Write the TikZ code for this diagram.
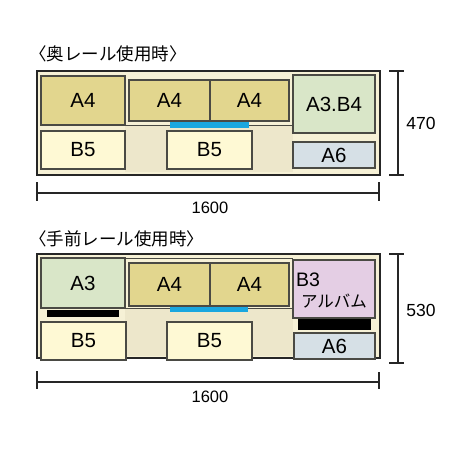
\documentclass[tikz,border=0pt]{standalone}
\usepackage{fontspec}
\setmainfont{Liberation Sans}
\newfontfamily\jp{Noto Sans CJK JP}
\usetikzlibrary{fit}
\definecolor{khaki}{HTML}{E2D68E}
\definecolor{bfive}{HTML}{FEF9D4}
\definecolor{agreen}{HTML}{D9E6C8}
\definecolor{asix}{HTML}{D6E0E6}
\definecolor{bthree}{HTML}{E4CEE4}
\definecolor{railblue}{HTML}{1AA7DF}
\definecolor{cream}{HTML}{F6F1D6}
\definecolor{beige}{HTML}{EDE7CB}
\definecolor{boxline}{HTML}{4A4A44}
\newcommand\mybox[7]{\node[#6, fit={(#2,#3) (#4,#5)}] (#1) {}; \node[lab] (#1-t) at (#1.center) {#7};}
\begin{document}
\begin{tikzpicture}[x=1pt,y=-1pt,
  lab/.style={inner sep=0pt, font=\fontsize{20.5}{20.5}\selectfont},
  box/.style={draw=boxline, line width=1.1pt, inner sep=0pt},
  outer/.style={draw=black!85, line width=1.8pt, fill=cream, inner sep=0pt},
  bar/.style={draw=none, inner sep=0pt},
  rail/.style={draw=boxline, line width=0.9pt},
  dim/.style={draw=black!85, line width=1.6pt},
  title/.style={font=\jp\fontsize{17.5}{17.5}\selectfont, anchor=west, inner sep=0pt},
  dimlab/.style={font=\fontsize{16.5}{16.5}\selectfont, inner sep=0pt}]
\useasboundingbox (0,0) rectangle (460,460);

% ---------- top ----------
\node[title] (t1) at (29,54) {〈奥レール使用時〉};
\mybox{o1}{37}{71}{380}{175}{outer}{}
\fill[beige] (125,125) rectangle (293,172);
\draw[rail] (125,125) -- (293,125);
\mybox{a4a}{41}{76}{125}{125}{box, fill=khaki}{A4}
\mybox{g1}{129}{80}{289}{121}{box, fill=khaki}{}
\draw[boxline, line width=1.1pt] (210,80) -- (210,121);
\node[lab] (a4b) at (169.5,100.5) {A4};
\node[lab] (a4c) at (249.5,100.5) {A4};
\mybox{bl1}{170}{122}{249}{128}{bar, fill=railblue}{}
\mybox{b5a}{41}{131}{125}{169}{box, fill=bfive}{B5}
\mybox{b5b}{167}{131}{252}{169}{box, fill=bfive}{B5}
\mybox{a3b4}{293}{75}{375}{133}{box, fill=agreen}{A3.B4}
\mybox{a6a}{293}{142}{375}{168}{box, fill=asix}{A6}
% dimensions
\coordinate (h1l) at (37,193); \coordinate (h1r) at (380,193);
\draw[dim] (h1l) -- (h1r);
\draw[dim] (37,182) -- (37,201);
\draw[dim] (379,182) -- (379,201);
\node[dimlab] (d1) at (210,208) {1600};
\coordinate (v1t) at (398,71); \coordinate (v1b) at (398,175);
\draw[dim] (v1t) -- (v1b);
\draw[dim] (389,71) -- (404,71);
\draw[dim] (389,175) -- (404,175);
\node[dimlab, font=\fontsize{17.5}{17.5}\selectfont] (d2) at (421,123) {470};

% ---------- bottom ----------
\node[title] (t2) at (29,239) {〈手前レール使用時〉};
\mybox{o2}{37}{254}{380}{358}{outer}{}
\fill[beige] (125,308) rectangle (293,356);
\draw[rail] (125,258) -- (293,258);
\draw[rail] (125,308) -- (293,308);
\mybox{a3}{41}{258}{125}{308}{box, fill=agreen}{A3}
\mybox{g2}{129}{263}{289}{306}{box, fill=khaki}{}
\draw[boxline, line width=1.1pt] (210,263) -- (210,306);
\node[lab] (a4d) at (169.5,284.5) {A4};
\node[lab] (a4e) at (249.5,284.5) {A4};
\mybox{bk1}{47}{310}{119}{317}{bar, fill=black}{}
\mybox{bl2}{170}{307}{248}{312}{bar, fill=railblue}{}
\mybox{b5c}{41}{322}{126}{360}{box, fill=bfive}{B5}
\mybox{b5d}{167}{322}{252}{360}{box, fill=bfive}{B5}
\mybox{b3}{293}{260}{375}{318}{box, fill=bthree}{}
\node[anchor=west, inner sep=0pt, font=\fontsize{19.5}{19.5}\selectfont] (b3t) at (296,280) {B3};
\node[inner sep=0pt, font=\jp\fontsize{16.5}{16.5}\selectfont] (alb) at (334,301) {アルバム};
\mybox{bk2}{298}{319}{371}{330}{bar, fill=black}{}
\mybox{a6b}{294}{333}{375}{359}{box, fill=asix}{A6}
% dimensions
\coordinate (h2l) at (37,382); \coordinate (h2r) at (380,382);
\draw[dim] (h2l) -- (h2r);
\draw[dim] (37,371) -- (37,389);
\draw[dim] (379,372) -- (379,389);
\node[dimlab] (d3) at (210,397) {1600};
\coordinate (v2t) at (398,254); \coordinate (v2b) at (398,363);
\draw[dim] (v2t) -- (v2b);
\draw[dim] (389,254) -- (404,254);
\draw[dim] (389,363) -- (404,363);
\node[dimlab, font=\fontsize{17.5}{17.5}\selectfont] (d4) at (421,310) {530};
\end{tikzpicture}
\end{document}
